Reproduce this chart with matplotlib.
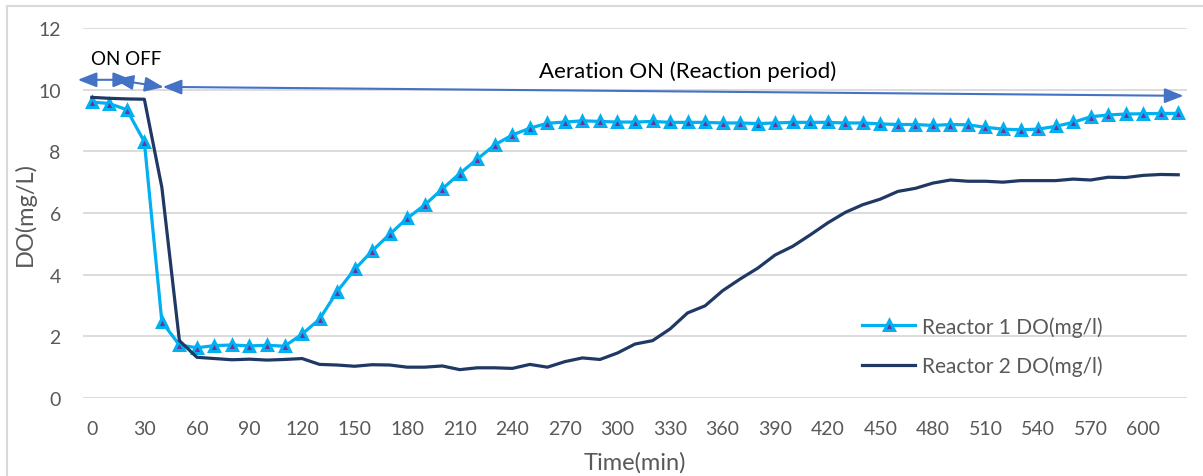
import matplotlib.pyplot as plt
from matplotlib.patches import Rectangle

plt.rcParams["font.family"] = ["Lato", "DejaVu Sans"]

time_min = list(range(0, 630, 10))
reactor1_do = [
    9.60, 9.55, 9.35, 8.31, 2.47, 1.72, 1.63, 1.70, 1.72, 1.69,
    1.71, 1.68, 2.07, 2.56, 3.45, 4.17, 4.77, 5.31, 5.83, 6.26,
    6.78, 7.28, 7.75, 8.21, 8.53, 8.75, 8.91, 8.95, 8.99, 8.97,
    8.95, 8.95, 8.97, 8.94, 8.94, 8.94, 8.92, 8.92, 8.90, 8.92,
    8.94, 8.94, 8.94, 8.92, 8.92, 8.89, 8.87, 8.87, 8.84, 8.87,
    8.86, 8.78, 8.72, 8.70, 8.72, 8.81, 8.94, 9.12, 9.18, 9.21,
    9.22, 9.23, 9.23,
]
reactor2_do = [
    9.75, 9.72, 9.70, 9.69, 6.83, 1.86, 1.32, 1.28, 1.24, 1.26,
    1.23, 1.25, 1.28, 1.09, 1.07, 1.03, 1.08, 1.07, 1.00, 1.00,
    1.04, 0.92, 0.98, 0.98, 0.96, 1.09, 1.00, 1.18, 1.30, 1.25,
    1.46, 1.75, 1.86, 2.24, 2.76, 2.99, 3.48, 3.86, 4.21, 4.64,
    4.92, 5.29, 5.68, 6.02, 6.27, 6.45, 6.70, 6.80, 6.97, 7.07,
    7.03, 7.03, 7.00, 7.05, 7.05, 7.05, 7.10, 7.07, 7.16, 7.15,
    7.22, 7.25, 7.24,
]
x_ticks = list(range(0, 630, 30))
y_ticks = [0, 2, 4, 6, 8, 10, 12]

grey = "#595959"
arrow_blue = "#4472C4"

fig = plt.figure(figsize=(12.03, 4.77), dpi=100)
ax = fig.add_axes([0.069, 0.1635, 0.9177, 0.7757])

# chart area border (cut at right and bottom in the source)
fig.patches.append(Rectangle((7 / 1203, -0.1), 1.2, 1.1 - 7 / 477,
                             transform=fig.transFigure, fill=False,
                             edgecolor="#D9D9D9", lw=1.5))

ax.plot(time_min, reactor1_do, color="#00B0F0", lw=2.3, marker="^",
        markersize=7, markerfacecolor="#7030A0", markeredgecolor="#00B0F0",
        markeredgewidth=2.2, label="Reactor 1 DO(mg/l)", zorder=3)
ax.plot(time_min, reactor2_do, color="#203864", lw=2.3,
        label="Reactor 2 DO(mg/l)", zorder=4)

ax.set_xlim(-5, 625)
ax.set_ylim(0, 12)
ax.set_xticks(x_ticks)
ax.set_yticks(y_ticks)
ax.tick_params(axis="both", length=0, labelsize=14, labelcolor=grey)
ax.tick_params(axis="x", pad=16)
ax.tick_params(axis="y", pad=16)
ax.grid(axis="y", color="#D9D9D9", lw=1.3)
ax.set_axisbelow(True)
for s in ax.spines.values():
    s.set_visible(False)

ax.set_xlabel("Time(min)", fontsize=17, color=grey, labelpad=10)
ax.set_ylabel("DO(mg/L)", fontsize=17, color=grey, labelpad=2)

# aeration on/off arrows
arrow_kw = dict(arrowstyle="<|-|>,head_length=0.38,head_width=0.15",
                color=arrow_blue, lw=1.5, mutation_scale=30,
                shrinkA=0, shrinkB=0)
ax.annotate("", xy=(-8, 10.32), xytext=(23, 10.32), arrowprops=arrow_kw,
            annotation_clip=False)
ax.annotate("", xy=(13, 10.33), xytext=(41, 10.08), arrowprops=arrow_kw,
            annotation_clip=False)
ax.annotate("", xy=(40.5, 10.09), xytext=(623, 9.8), arrowprops=arrow_kw,
            annotation_clip=False)
ax.text(-0.5, 11.0, "ON OFF", fontsize=13.5, color="black", ha="left",
        va="center")
ax.text(340, 10.6, "Aeration ON (Reaction period)", fontsize=16,
        color="black", ha="center", va="center")

leg = ax.legend(loc="center left", bbox_to_anchor=(0.7056, 0.1405),
                frameon=False, fontsize=15, handlelength=2.55,
                handletextpad=0.35, labelspacing=0.9, borderpad=0,
                borderaxespad=0)
for t in leg.get_texts():
    t.set_color(grey)

fig.savefig("out.png", dpi=100)
